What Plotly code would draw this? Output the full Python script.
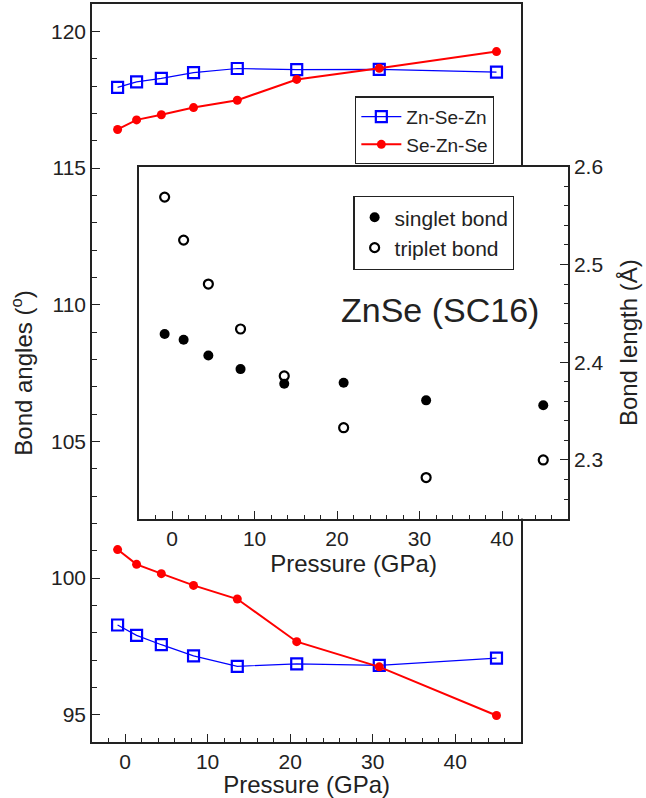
import plotly.graph_objects as go

# Pressure points (GPa) shared by all series
pressure = [-0.9, 1.4, 4.4, 8.3, 13.6, 20.8, 30.8, 45.0]

# Bond angles (degrees): upper and lower branches of each angle family
znsezn_upper = [117.95, 118.15, 118.28, 118.49, 118.64, 118.60, 118.61, 118.51]
znsezn_lower = [98.28, 97.90, 97.56, 97.15, 96.77, 96.86, 96.80, 97.07]
seznse_upper = [116.41, 116.76, 116.95, 117.21, 117.48, 118.24, 118.65, 119.26]
seznse_lower = [101.04, 100.50, 100.16, 99.73, 99.23, 97.67, 96.75, 94.97]

# Bond lengths (Angstrom) for the inset
singlet_bond = [2.429, 2.423, 2.407, 2.393, 2.378, 2.379, 2.361, 2.356]
triplet_bond = [2.569, 2.525, 2.480, 2.434, 2.386, 2.333, 2.282, 2.300]

FONT = "Arial, Liberation Sans, Helvetica, sans-serif"
INK = "#222222"
BLUE = "#0000ff"
RED = "#ff0000"

fig = go.Figure()

# --- main panel: bond angles ---
for i, ys in enumerate([znsezn_upper, znsezn_lower]):
    fig.add_trace(go.Scatter(
        x=pressure, y=ys, mode="lines+markers", name="Zn-Se-Zn",
        legendgroup="znsezn", showlegend=(i == 0), legend="legend",
        line=dict(color=BLUE, width=1.2),
        marker=dict(symbol="square-open", size=11, color=BLUE,
                    line=dict(color=BLUE, width=2.2)),
        xaxis="x", yaxis="y"))
for i, ys in enumerate([seznse_upper, seznse_lower]):
    fig.add_trace(go.Scatter(
        x=pressure, y=ys, mode="lines+markers", name="Se-Zn-Se",
        legendgroup="seznse", showlegend=(i == 0), legend="legend",
        line=dict(color=RED, width=2),
        marker=dict(symbol="circle", size=9, color=RED),
        xaxis="x", yaxis="y"))

# --- inset: bond lengths ---
fig.add_trace(go.Scatter(
    x=pressure, y=singlet_bond, mode="markers", name="singlet bond",
    legend="legend2",
    marker=dict(symbol="circle", size=10, color="black"),
    xaxis="x2", yaxis="y2"))
fig.add_trace(go.Scatter(
    x=pressure, y=triplet_bond, mode="markers", name="triplet bond",
    legend="legend2",
    marker=dict(symbol="circle-open", size=9, color="black",
                line=dict(color="black", width=2.2)),
    xaxis="x2", yaxis="y2"))

axis_common = dict(
    showline=True, linecolor=INK, linewidth=1.5, mirror=True,
    ticks="inside", ticklen=8, tickwidth=1.3, tickcolor=INK,
    showgrid=False, zeroline=False, automargin=False,
    tickfont=dict(family=FONT, size=21, color=INK),
)

fig.update_layout(
    width=646, height=798,
    margin=dict(l=92, r=78, t=4, b=56),
    paper_bgcolor="white", plot_bgcolor="white",
    font=dict(family=FONT, color=INK),
    xaxis=dict(
        **axis_common, domain=[0, 0.9018], range=[-4, 48], dtick=10,
        minor=dict(dtick=2, ticks="inside", ticklen=4, tickcolor=INK, tickwidth=1.2),
        title=dict(text="Pressure (GPa)", font=dict(family=FONT, size=24, color=INK),
                   standoff=2),
        anchor="y",
    ),
    yaxis=dict(
        **axis_common, domain=[0, 1], range=[94, 121], dtick=5,
        minor=dict(dtick=1, ticks="inside", ticklen=5, tickcolor=INK, tickwidth=1.2),
        title=dict(text="Bond angles (<sup>o</sup>)",
                   font=dict(family=FONT, size=24, color=INK), standoff=12),
        anchor="x",
    ),
    xaxis2=dict(
        **axis_common, domain=[0.0989, 1], range=[-4, 48], dtick=10,
        minor=dict(dtick=2, ticks="inside", ticklen=4, tickcolor=INK, tickwidth=1.2),
        title=dict(text="Pressure (GPa)", font=dict(family=FONT, size=24, color=INK),
                   standoff=2),
        anchor="y2",
    ),
    yaxis2=dict(
        **axis_common, domain=[0.3027, 0.7794], range=[2.24, 2.6], dtick=0.1,
        tickformat=".1f", side="right",
        minor=dict(dtick=0.02, ticks="inside", ticklen=4, tickcolor=INK, tickwidth=1.2),
        title=dict(text="Bond length (Å)", font=dict(family=FONT, size=24, color=INK),
                   standoff=18),
        anchor="x2",
    ),
    legend=dict(
        x=0.5526, y=0.8747, xanchor="left", yanchor="top",
        bordercolor=INK, borderwidth=1.3, bgcolor="white",
        font=dict(family=FONT, size=19, color=INK),
        tracegroupgap=0, itemwidth=40,
    ),
    legend2=dict(
        x=0.549, y=0.740, xanchor="left", yanchor="top",
        bordercolor=INK, borderwidth=1.3, bgcolor="white",
        font=dict(family=FONT, size=21, color=INK),
        itemwidth=30,
    ),
    annotations=[dict(
        text="ZnSe (SC16)", xref="x2", yref="y2", x=32.5, y=2.4535,
        showarrow=False, font=dict(family=FONT, size=34, color=INK),
    )],
    showlegend=True,
)

fig.write_html("out.html")
